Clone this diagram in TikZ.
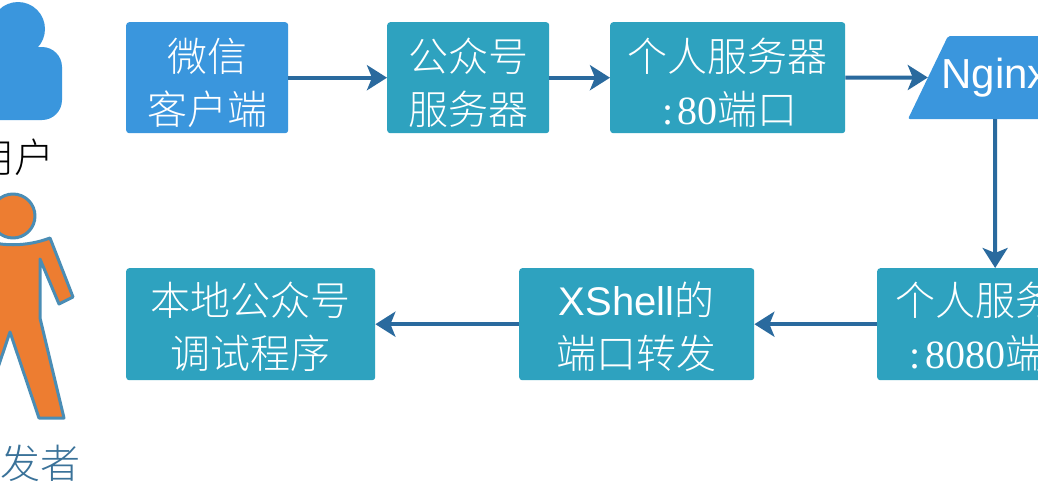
\documentclass[tikz,border=0pt]{standalone}
\usepackage{fontspec}
\setmainfont{Liberation Serif}
\newfontfamily\cjk{Noto Sans CJK SC Light}
\newfontfamily\lat{Liberation Sans}
\usetikzlibrary{arrows.meta}
\definecolor{cblue}{HTML}{3A96DD}
\definecolor{cteal}{HTML}{2EA2BF}
\definecolor{carrow}{HTML}{2A6A9E}
\definecolor{corange}{HTML}{ED7D31}
\definecolor{cstroke}{HTML}{4A8DB5}
\definecolor{cdev}{HTML}{3A7299}
\newcommand{\dg}[1]{{\rmfamily\makebox[20pt]{:}#1}}
\newcommand{\upa}{\rule{0pt}{43pt}}
\newcommand{\upb}{\rule{0pt}{39pt}}
\tikzset{
  x=1pt,y=-1pt,
  boxtext/.style={text=white,font=\fontsize{40}{53}\selectfont\cjk,align=center,inner sep=0pt,rounded corners=3pt,anchor=north west},
  tealbox/.style={boxtext,fill=cteal},
  bluebox/.style={boxtext,fill=cblue},
  flow/.style={draw=carrow,line width=4pt,-{Stealth[length=20pt,width=25pt,inset=5pt]}},
  person/.style={draw=cstroke,line width=3pt,fill=corange,line join=round},
}
\begin{document}
\begin{tikzpicture}
\useasboundingbox (0,0) rectangle (1038,485);
\clip (0,0) rectangle (1038,485);
\fill[white] (0,0) rectangle (1038,485);
% user icon
\fill[cblue,rounded corners=20pt] (-26,47) rectangle (62,120);
\fill[cblue] (18,29) circle (27);
\node[font=\fontsize{40}{42}\selectfont\cjk,text=black,inner sep=0pt] (user) at (15,157) {用户};
% developer icon
\path[person] (-24,238) .. controls (0,247) and (26,247) .. (50,238) -- (73,297) -- (59,304) -- (40,259) -- (40,318) -- (64,418) -- (39,418) -- (10,332) -- (-19,418) -- (-44,418) -- (-14,318) -- cycle;
\draw[person] (13,216) circle (22);
\node[font=\fontsize{40}{42}\selectfont\cjk,text=cdev,inner sep=0pt] (dev) at (21,463) {开发者};
% boxes
\node[bluebox,minimum width=162pt,minimum height=111pt] (wx) at (126,22) {\upa 微信\\客户端};
\node[tealbox,minimum width=162pt,minimum height=111pt] (gzh) at (387,22) {\upa 公众号\\服务器};
\node[tealbox,minimum width=235pt,minimum height=111pt] (s80) at (610,22) {\upa 个人服务器\\\dg{80}端口};
\fill[cblue,rounded corners=2pt] (908,119) -- (948,36) -- (1042,36) -- (1082,119) -- cycle;
\node[text=white,inner sep=0pt,minimum width=134pt,minimum height=83pt,font=\fontsize{42}{50}\selectfont\lat] (ngx) at (995,77.5) {Nginx};
\node[tealbox,minimum width=236pt,minimum height=112pt] (s8080) at (877,268) {\upb 个人服务器\\\dg{8080}端口};
\node[tealbox,minimum width=235pt,minimum height=112pt] (xs) at (519,268) {\upb {\lat XShell}的\\端口转发};
\node[tealbox,minimum width=249pt,minimum height=112pt] (dbg) at (126,268) {\upb 本地公众号\\调试程序};
% connectors
\draw[flow] (wx) -- (gzh);
\draw[flow] (gzh) -- (s80);
\draw[flow] (s80) -- (ngx.west);
\draw[flow] (ngx) -- (s8080);
\draw[flow] (s8080) -- (xs);
\draw[flow] (xs) -- (dbg);
\end{tikzpicture}
\end{document}
